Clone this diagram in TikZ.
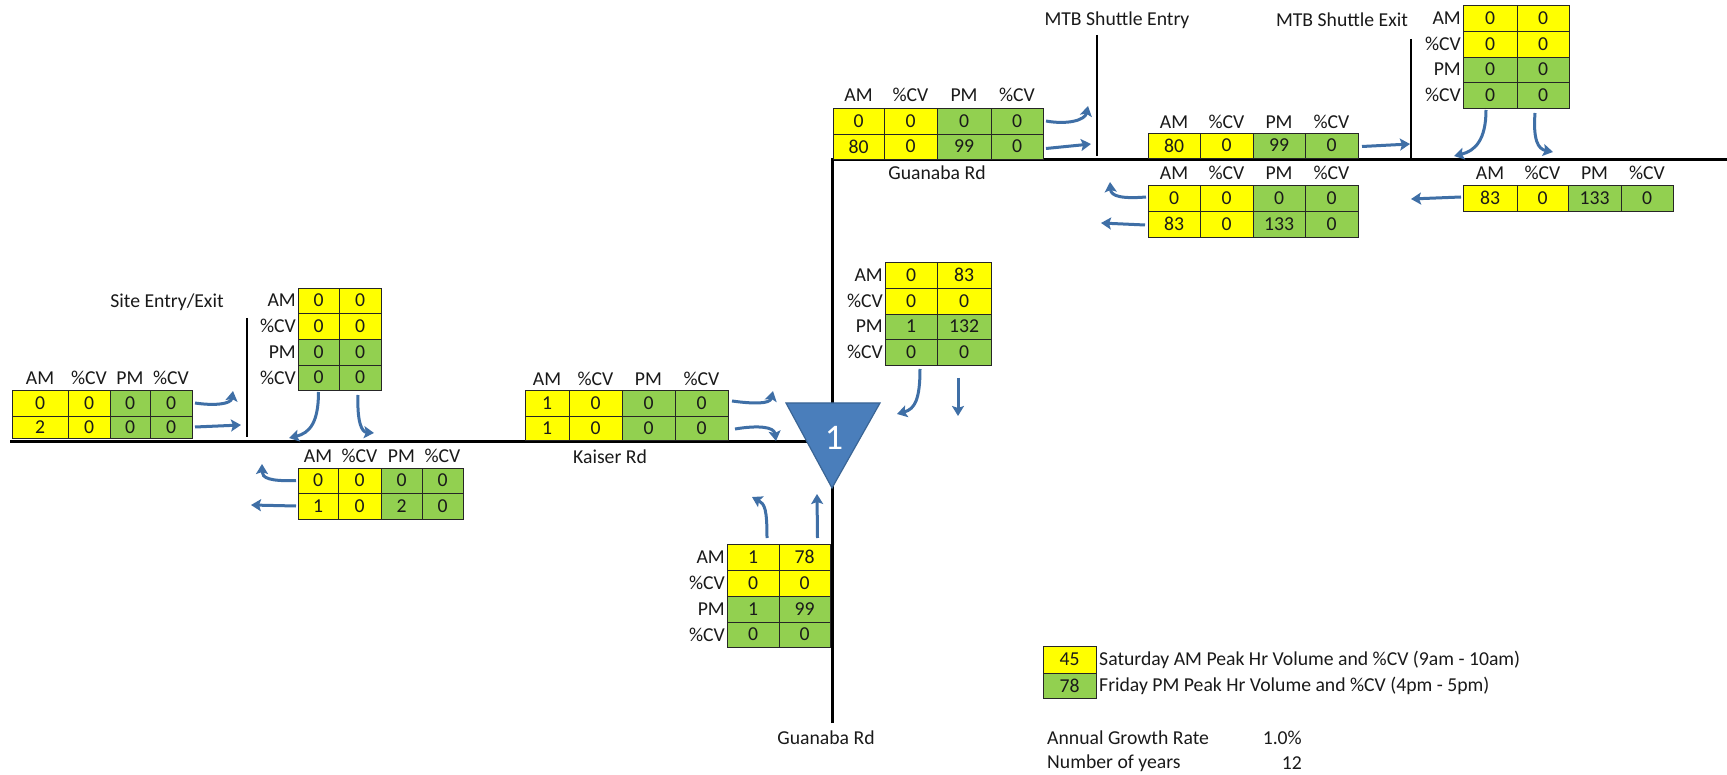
\documentclass[tikz,border=0pt]{standalone}
\usepackage{fontspec}
\setmainfont{Carlito}
\usetikzlibrary{arrows.meta}
\definecolor{yel}{HTML}{FFFF00}
\definecolor{grn}{HTML}{92D050}
\definecolor{arr}{HTML}{3F6FA6}
\definecolor{trifill}{HTML}{4A7EBB}
\definecolor{tridraw}{HTML}{3A6595}
\definecolor{txt}{HTML}{1A1A1A}
\newcommand\cf{\fontsize{19.7}{23}\selectfont}
\newcommand\cellbox[7]{\node[cellnode,fill=#6,minimum width={(#4-#2)*1pt},minimum height={(#5-#3)*1pt}] (#1) at ({(#2+#4)/2},{(#3+#5)/2}) {#7};}
\newcommand\setx[5]{\def\xA{#1}\def\xB{#2}\def\xC{#3}\def\xD{#4}\def\xE{#5}}
\newcommand\hrow[7]{%
 \cellbox{#1a}{\xA}{#2}{\xB}{#3}{yel}{#4}
 \cellbox{#1b}{\xB}{#2}{\xC}{#3}{yel}{#5}
 \cellbox{#1c}{\xC}{#2}{\xD}{#3}{grn}{#6}
 \cellbox{#1d}{\xD}{#2}{\xE}{#3}{grn}{#7}}
\newcommand\hhead[2]{%
 \node[hd] (#1a) at ({(\xA+\xB)/2},#2) {AM};
 \node[hd] (#1b) at ({(\xB+\xC)/2},#2) {\%CV};
 \node[hd] (#1c) at ({(\xC+\xD)/2},#2) {PM};
 \node[hd] (#1d) at ({(\xD+\xE)/2},#2) {\%CV};}
\newcommand\vrow[7]{%
 \node[hd,anchor=east] (#1l) at ({\xA-2},{(#2+#3)/2}) {#4};
 \cellbox{#1a}{\xA}{#2}{\xB}{#3}{#7}{#5}
 \cellbox{#1b}{\xB}{#2}{\xC}{#3}{#7}{#6}}
\begin{document}
\begin{tikzpicture}[x=1pt,y=-1pt,
  cellnode/.style={draw=black!85,line width=0.9pt,inner sep=0pt,outer sep=0pt,font=\cf,text=txt},
  hd/.style={inner sep=0pt,font=\cf,text=txt},
  lbl/.style={inner sep=0pt,font=\cf,text=txt},
  road/.style={line width=3pt,black},
  gate/.style={line width=2.6pt,black},
  flow/.style={draw=arr,line width=3pt,-{Stealth[length=10pt,width=12pt,inset=2pt]}}]
\useasboundingbox[fill=white] (0,0) rectangle (1727,775);

% roads
\coordinate (kW) at (10,441);
\coordinate (kE) at (832,441);
\coordinate (gS) at (832,723);
\coordinate (gN) at (832,160);
\coordinate (gE) at (1727,160);
\draw[road] (kW) -- (kE);
\draw[road,line join=miter] (gS) -- (gN) -- (gE);
\coordinate (s1) at (247,318); \coordinate (s2) at (247,437);
\coordinate (m1) at (1097,35); \coordinate (m2) at (1097,156);
\coordinate (x1) at (1411,39); \coordinate (x2) at (1411,158);
\draw[gate] (s1) -- (s2);
\draw[gate] (m1) -- (m2);
\draw[gate] (x1) -- (x2);

% triangle
\coordinate (ta) at (786,403); \coordinate (tb) at (880,403); \coordinate (tc) at (832,488);
\draw[fill=trifill,draw=tridraw,line width=1.2pt,line join=miter] (ta) -- (tb) -- (tc) -- cycle;
\node[inner sep=0pt,text=white,font=\fontsize{36}{40}\selectfont] (one) at (834,438) {1};

% T1
\setx{12}{68}{110}{150}{192}
\hhead{T1h}{378}
\hrow{T1r1}{390}{416}{0}{0}{0}{0}
\hrow{T1r2}{416}{438}{2}{0}{0}{0}
% T2
\setx{298}{339}{381}{0}{0}
\vrow{T2r1}{288}{313}{AM}{0}{0}{yel}
\vrow{T2r2}{313}{339}{\%CV}{0}{0}{yel}
\vrow{T2r3}{339}{365}{PM}{0}{0}{grn}
\vrow{T2r4}{365}{390}{\%CV}{0}{0}{grn}
% T3
\setx{298}{338}{381}{422}{463}
\hhead{T3h}{456}
\hrow{T3r1}{468}{493}{0}{0}{0}{0}
\hrow{T3r2}{493}{519}{1}{0}{2}{0}
% T4
\setx{525}{569}{622}{675}{728}
\hhead{T4h}{379}
\hrow{T4r1}{390}{416}{1}{0}{0}{0}
\hrow{T4r2}{416}{440}{1}{0}{0}{0}
% T5
\setx{885}{937}{991}{0}{0}
\vrow{T5r1}{262}{288}{AM}{0}{83}{yel}
\vrow{T5r2}{288}{314}{\%CV}{0}{0}{yel}
\vrow{T5r3}{314}{339}{PM}{1}{132}{grn}
\vrow{T5r4}{339}{365}{\%CV}{0}{0}{grn}
% T6
\setx{727}{779}{830}{0}{0}
\vrow{T6r1}{544}{570}{AM}{1}{78}{yel}
\vrow{T6r2}{570}{596}{\%CV}{0}{0}{yel}
\vrow{T6r3}{596}{622}{PM}{1}{99}{grn}
\vrow{T6r4}{622}{647}{\%CV}{0}{0}{grn}
% T7
\setx{833}{884}{937}{991}{1043}
\hhead{T7h}{95}
\hrow{T7r1}{108}{134}{0}{0}{0}{0}
\hrow{T7r2}{134}{159}{80}{0}{99}{0}
% T8
\setx{1148}{1200}{1253}{1305}{1358}
\hhead{T8h}{122}
\hrow{T8r1}{133}{158}{80}{0}{99}{0}
% T9
\hhead{T9h}{173}
\hrow{T9r1}{185}{211}{0}{0}{0}{0}
\hrow{T9r2}{211}{237}{83}{0}{133}{0}
% T10
\setx{1463}{1517}{1569}{0}{0}
\vrow{T10r1}{5}{31}{AM}{0}{0}{yel}
\vrow{T10r2}{31}{57}{\%CV}{0}{0}{yel}
\vrow{T10r3}{57}{82}{PM}{0}{0}{grn}
\vrow{T10r4}{82}{108}{\%CV}{0}{0}{grn}
% T11
\setx{1463}{1517}{1568}{1621}{1673}
\hhead{T11h}{173}
\hrow{T11r1}{185}{211}{83}{0}{133}{0}

% labels
\node[lbl] (site) at (167,302) {Site Entry/Exit};
\node[lbl] (kaiser) at (610,457) {Kaiser Rd};
\node[lbl] (guaN) at (937,173) {Guanaba Rd};
\node[lbl] (guaS) at (826,738) {Guanaba Rd};
\node[lbl] (mtbE) at (1117,20) {MTB Shuttle Entry};
\node[lbl] (mtbX) at (1342,20) {MTB Shuttle Exit};

% legend
\cellbox{L1}{1043}{646}{1096}{673}{yel}{45}
\cellbox{L2}{1043}{673}{1096}{698}{grn}{78}
\node[lbl,anchor=west] (L1t) at (1099,660) {Saturday AM Peak Hr Volume and \%CV (9am - 10am)};
\node[lbl,anchor=west] (L2t) at (1099,686) {Friday PM Peak Hr Volume and \%CV (4pm - 5pm)};
\node[lbl,anchor=west] (g1) at (1047,738) {Annual Growth Rate};
\node[lbl,anchor=east] (g2) at (1302,738) {1.0\%};
\node[lbl,anchor=west] (g3) at (1047,763) {Number of years};
\node[lbl,anchor=east] (g4) at (1302,763) {12};

% arrows
\coordinate (e1) at (233,391);
\coordinate (e2) at (241,425);
\draw[flow] ([xshift=3pt]T1r1d.east) .. controls +(20,3) and (231,404) .. (e1);
\draw[flow] ([xshift=3pt]T1r2d.east) -- (e2);
\coordinate (e3) at (289,438);
\coordinate (e4) at (374,433);
\draw[flow] ([yshift=-2pt]T2r4a.south) .. controls +(0,30) and (310,433) .. (e3);
\draw[flow] ([xshift=-2pt,yshift=-5pt]T2r4b.south) .. controls +(-1,28) and (362,432) .. (e4);
\coordinate (e5) at (262,464);
\coordinate (e6) at (251,505);
\draw[flow] ([xshift=-2pt]T3r1a.west) .. controls +(-26,1) and (262,478) .. (e5);
\draw[flow] ([xshift=-2pt]T3r2a.west) -- (e6);
\coordinate (e7) at (773,391);
\coordinate (e8) at (776,441);
\draw[flow] ([xshift=4pt,yshift=2pt]T4r1d.east) .. controls +(22,3) and (770,404) .. (e7);
\draw[flow] ([xshift=7pt,yshift=-1pt]T4r2d.east) .. controls +(24,-4) and (774,427) .. (e8);
\coordinate (e9) at (897,414);
\coordinate (e10) at (958,416);
\draw[flow] ([xshift=9pt,yshift=-4pt]T5r4a.south) .. controls +(0,30) and (915,409) .. (e9);
\draw[flow] ([xshift=-6pt,yshift=-13pt]T5r4b.south) -- (e10);
\coordinate (e11) at (752,497);
\coordinate (e12) at (817,494);
\draw[flow] ([xshift=14pt,yshift=6pt]T6r1a.north) .. controls +(0,-28) and (765,504) .. (e11);
\draw[flow] ([xshift=13pt,yshift=6pt]T6r1b.north) -- (e12);
\coordinate (e13) at (1088,106);
\coordinate (e14) at (1091,144);
\draw[flow] ([xshift=3pt]T7r1d.east) .. controls +(22,4) and (1085,120) .. (e13);
\draw[flow] ([xshift=3pt,yshift=-2pt]T7r2d.east) -- (e14);
\coordinate (e15) at (1410,144);
\draw[flow] ([xshift=4pt,yshift=-1pt]T8r1d.east) -- (e15);
\coordinate (e16) at (1110,182);
\draw[flow] ([xshift=-2pt,yshift=1pt]T9r1a.west) .. controls +(-25,2) and (1111,196) .. (e16);
\coordinate (e17) at (1101,223);
\draw[flow] ([xshift=-3pt,yshift=-1pt]T9r2a.west) -- (e17);
\coordinate (e18) at (1454,156);
\coordinate (e19) at (1553,152);
\draw[flow] ([xshift=-4pt,yshift=-2pt]T10r4a.south) .. controls +(0,30) and (1475,151) .. (e18);
\draw[flow] ([xshift=-8pt,yshift=-5pt]T10r4b.south) .. controls +(-2,27) and (1538,149) .. (e19);
\coordinate (e20) at (1411,199);
\draw[flow] ([xshift=-2pt,yshift=1pt]T11r1a.west) -- (e20);
\end{tikzpicture}
\end{document}
